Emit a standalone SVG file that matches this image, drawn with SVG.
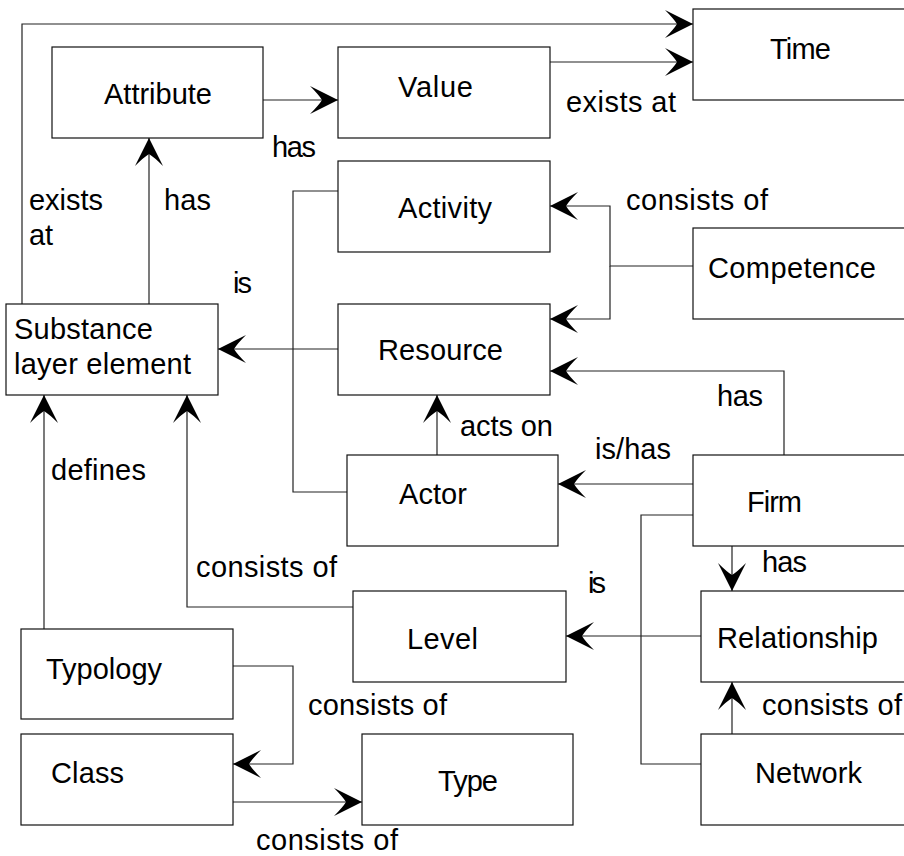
<svg xmlns="http://www.w3.org/2000/svg" width="904" height="856" viewBox="0 0 904 856">
  <style>
    .box { fill: #ffffff; stroke: #111111; stroke-width: 1.2; }
    .wire { fill: none; stroke: #222222; stroke-width: 1.2; }
    .arrow { marker-end: url(#barb); }
    text { font-family: "Liberation Sans Narrow", "Liberation Sans", Arial, sans-serif; font-size: 29px; fill: #000000; }
  </style>
  <defs>
    <marker id="barb" markerUnits="userSpaceOnUse" markerWidth="30" markerHeight="30" viewBox="-29 -15 30 30" refX="0" refY="0" orient="auto">
      <path d="M0,0 L-28,-14 Q-19,-5 -16,0 Q-19,5 -28,14 Z" fill="#000000"/>
    </marker>
  </defs>

  <rect width="904" height="856" fill="#ffffff"/>

  <!-- connectors -->
  <g id="connectors">
    <path class="wire arrow" d="M22,304 V24 H693"/>
    <path class="wire arrow" d="M149,304 V138"/>
    <path class="wire arrow" d="M263,100 H338"/>
    <path class="wire arrow" d="M550,62 H693"/>
    <path class="wire arrow" d="M693,266 H610 V206 H550"/>
    <path class="wire arrow" d="M610,266 V319 H550"/>
    <path class="wire arrow" d="M338,349 H218"/>
    <path class="wire" d="M338,191 H293 V492 H347"/>
    <path class="wire arrow" d="M437,455 V395"/>
    <path class="wire arrow" d="M784,455 V371 H550"/>
    <path class="wire arrow" d="M693,484 H558"/>
    <path class="wire" d="M693,515 H641 V764 H701"/>
    <path class="wire arrow" d="M701,636 H566"/>
    <path class="wire arrow" d="M732,546 V591"/>
    <path class="wire arrow" d="M732,734 V682"/>
    <path class="wire arrow" d="M353,607 H187 V395"/>
    <path class="wire arrow" d="M44,629 V395"/>
    <path class="wire arrow" d="M233,666 H293 V764 H233"/>
    <path class="wire arrow" d="M233,802 H362"/>

    <!-- connector labels -->
    <text x="29" y="210" textLength="74" lengthAdjust="spacing">exists</text>
    <text x="29" y="245" textLength="24" lengthAdjust="spacing">at</text>
    <text x="164" y="210" textLength="47" lengthAdjust="spacing">has</text>
    <text x="272" y="157" textLength="44" lengthAdjust="spacing">has</text>
    <text x="566" y="112" textLength="110" lengthAdjust="spacing">exists at</text>
    <text x="626" y="210" textLength="142" lengthAdjust="spacing">consists of</text>
    <text x="233" y="293" textLength="19" lengthAdjust="spacing">is</text>
    <text x="717" y="406" textLength="46" lengthAdjust="spacing">has</text>
    <text x="460" y="436" textLength="93" lengthAdjust="spacing">acts on</text>
    <text x="595" y="459" textLength="76" lengthAdjust="spacing">is/has</text>
    <text x="762" y="572" textLength="45" lengthAdjust="spacing">has</text>
    <text x="588" y="593" textLength="18" lengthAdjust="spacing">is</text>
    <text x="51" y="480" textLength="95" lengthAdjust="spacing">defines</text>
    <text x="196" y="577" textLength="141" lengthAdjust="spacing">consists of</text>
    <text x="308" y="715" textLength="139" lengthAdjust="spacing">consists of</text>
    <text x="762" y="715" textLength="140" lengthAdjust="spacing">consists of</text>
    <text x="256" y="850" textLength="142" lengthAdjust="spacing">consists of</text>
  </g>

  <!-- nodes -->
  <g id="time">
    <rect class="box" x="693" y="9" width="230" height="91"/>
    <text x="770" y="59" textLength="61" lengthAdjust="spacing">Time</text>
  </g>
  <g id="attribute">
    <rect class="box" x="52" y="47" width="211" height="91"/>
    <text x="104" y="104" textLength="108" lengthAdjust="spacing">Attribute</text>
  </g>
  <g id="value">
    <rect class="box" x="338" y="47" width="212" height="91"/>
    <text x="398" y="97" textLength="75" lengthAdjust="spacing">Value</text>
  </g>
  <g id="activity">
    <rect class="box" x="338" y="161" width="212" height="91"/>
    <text x="398" y="218" textLength="94" lengthAdjust="spacing">Activity</text>
  </g>
  <g id="competence">
    <rect class="box" x="693" y="228" width="230" height="91"/>
    <text x="708" y="278" textLength="168" lengthAdjust="spacing">Competence</text>
  </g>
  <g id="substance">
    <rect class="box" x="6" y="304" width="212" height="91"/>
    <text x="14" y="339" textLength="139" lengthAdjust="spacing">Substance</text>
    <text x="14" y="374" textLength="177" lengthAdjust="spacing">layer element</text>
  </g>
  <g id="resource">
    <rect class="box" x="338" y="304" width="212" height="91"/>
    <text x="378" y="360" textLength="125" lengthAdjust="spacing">Resource</text>
  </g>
  <g id="actor">
    <rect class="box" x="347" y="455" width="211" height="91"/>
    <text x="399" y="504" textLength="68" lengthAdjust="spacing">Actor</text>
  </g>
  <g id="firm">
    <rect class="box" x="693" y="455" width="230" height="91"/>
    <text x="747" y="512" textLength="55" lengthAdjust="spacing">Firm</text>
  </g>
  <g id="level">
    <rect class="box" x="353" y="591" width="213" height="91"/>
    <text x="407" y="649" textLength="71" lengthAdjust="spacing">Level</text>
  </g>
  <g id="relationship">
    <rect class="box" x="701" y="591" width="230" height="91"/>
    <text x="717" y="648" textLength="161" lengthAdjust="spacing">Relationship</text>
  </g>
  <g id="typology">
    <rect class="box" x="21" y="629" width="212" height="90"/>
    <text x="46" y="679" textLength="116" lengthAdjust="spacing">Typology</text>
  </g>
  <g id="class">
    <rect class="box" x="21" y="734" width="212" height="91"/>
    <text x="51" y="783" textLength="73" lengthAdjust="spacing">Class</text>
  </g>
  <g id="type">
    <rect class="box" x="362" y="734" width="211" height="91"/>
    <text x="438" y="791" textLength="60" lengthAdjust="spacing">Type</text>
  </g>
  <g id="network">
    <rect class="box" x="701" y="734" width="230" height="91"/>
    <text x="755" y="783" textLength="107" lengthAdjust="spacing">Network</text>
  </g>
</svg>
